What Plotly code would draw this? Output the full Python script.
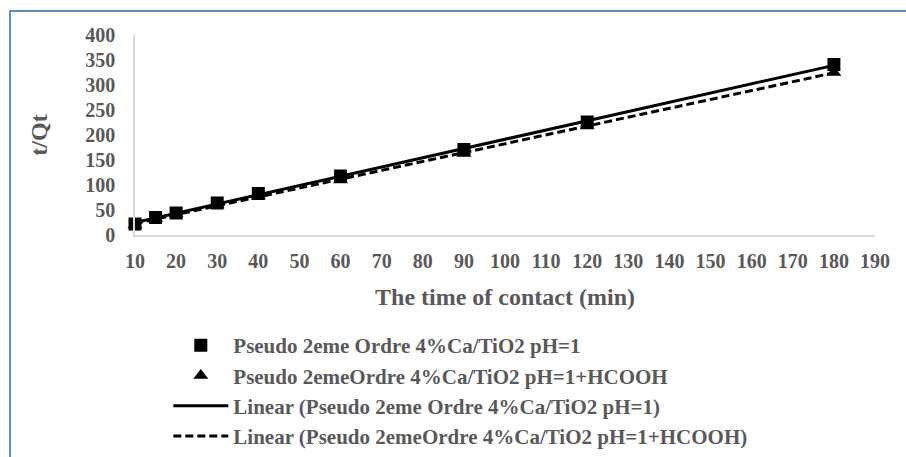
import numpy as np
import plotly.graph_objects as go

# contact time (min)
time_min = [10, 15, 20, 30, 40, 60, 90, 120, 180]
# t/Qt, pseudo second order, 4%Ca/TiO2 pH=1
tq_ph1 = [22, 35, 44, 64, 83, 118, 171, 226, 341]
# t/Qt, pseudo second order, 4%Ca/TiO2 pH=1 + HCOOH
tq_hcooh = [20, 33, 42, 60, 78, 110, 163, 218, 325]

name_sq = "Pseudo 2eme Ordre 4%Ca/TiO2 pH=1"
name_tri = "Pseudo 2emeOrdre 4%Ca/TiO2 pH=1+HCOOH"

x_ticks = list(range(10, 200, 10))
y_ticks = list(range(0, 450, 50))

serif = "Liberation Serif, Times New Roman, serif"
grey = "#595959"

# least-squares trend lines
x_arr = np.array(time_min, dtype=float)
fit_sq = np.polyfit(x_arr, tq_ph1, 1)
fit_tri = np.polyfit(x_arr, tq_hcooh, 1)
x_fit = np.array([min(time_min), max(time_min)], dtype=float)

fig = go.Figure()
# trend lines first so the markers sit on top of them
fig.add_trace(go.Scatter(
    x=x_fit, y=np.polyval(fit_sq, x_fit), mode="lines",
    name=f"Linear ({name_sq})", legendrank=3,
    line=dict(color="black", width=3),
))
fig.add_trace(go.Scatter(
    x=x_fit, y=np.polyval(fit_tri, x_fit), mode="lines",
    name=f"Linear ({name_tri})", legendrank=4,
    line=dict(color="black", width=3, dash="8px,4px"),
))
fig.add_trace(go.Scatter(
    x=time_min, y=tq_ph1, mode="markers", name=name_sq, legendrank=1,
    marker=dict(symbol="square", size=13, color="black"), cliponaxis=False,
))
fig.add_trace(go.Scatter(
    x=time_min, y=tq_hcooh, mode="markers", name=name_tri, legendrank=2,
    marker=dict(symbol="triangle-up", size=13, color="black"), cliponaxis=False,
))

fig.update_layout(
    width=906, height=457,
    margin=dict(l=135, r=31, t=35, b=222, autoexpand=False),
    paper_bgcolor="white", plot_bgcolor="white",
    font=dict(family=serif, color=grey, size=20, weight="bold"),
    showlegend=True,
    legend=dict(
        xref="paper", yref="container",
        x=0.045, y=0.2888, xanchor="left", yanchor="top",
        traceorder="normal",
        font=dict(family=serif, color=grey, size=21, weight="bold"),
        itemwidth=55, tracegroupgap=0,
        bgcolor="rgba(0,0,0,0)",
    ),
    xaxis=dict(
        range=[10, 190], tickvals=x_ticks, showgrid=False, zeroline=False,
        showline=True, linecolor="#D9D9D9", linewidth=1.5,
        ticks="outside", ticklen=7, tickcolor="rgba(0,0,0,0)",
        tickfont=dict(size=20),
        title=dict(text="The time of contact (min)", font=dict(size=24), standoff=17),
    ),
    yaxis=dict(
        range=[0, 400], tickvals=y_ticks, showgrid=False, zeroline=False,
        showline=True, linecolor="#D9D9D9", linewidth=1.5,
        ticks="outside", ticklen=14, tickcolor="rgba(0,0,0,0)",
        tickfont=dict(size=20),
        title=dict(text="t/Qt", font=dict(size=24), standoff=31),
    ),
    shapes=[dict(
        type="path", xref="paper", yref="paper",
        path="M -0.1689,-1.2 L -0.1689,1.12 L 1.06,1.12",
        line=dict(color="#5F8BC7", width=2),
    )],
)

fig.write_html("out.html")
